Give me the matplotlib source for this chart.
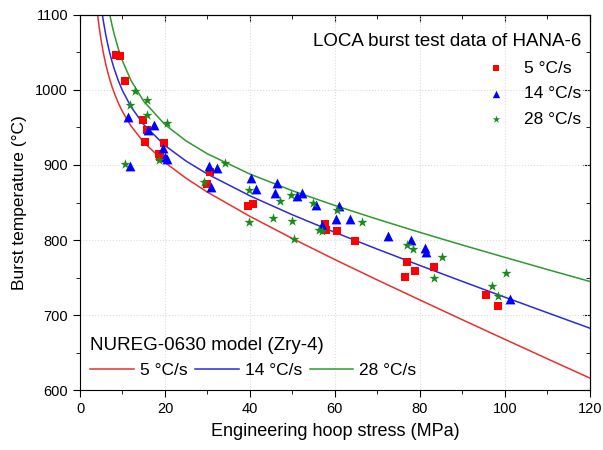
import matplotlib
matplotlib.use("Agg")
import matplotlib.pyplot as plt
from matplotlib.ticker import MultipleLocator

plt.rcParams['font.family'] = ['Liberation Sans', 'DejaVu Sans']

# LOCA burst test data of HANA-6
x_5 = [8.5, 9.3, 10.7, 14.8, 15.8, 15.3, 19.8, 18.6, 18.9, 29.9, 30.5, 39.5, 40.8,
       57.6, 58.0, 60.5, 64.7, 76.5, 77.0, 78.8, 83.4, 95.5, 98.3]
t_5 = [1047, 1045, 1012, 960, 947, 931, 929, 915, 911, 875, 891, 846, 848,
       821, 813, 812, 799, 751, 771, 759, 764, 727, 712]

x_14 = [11.4, 11.7, 16.1, 17.3, 19.6, 20.0, 20.4, 30.4, 32.3, 30.8, 40.3, 41.5, 46.3,
        45.9, 51.0, 52.3, 55.5, 56.9, 60.2, 60.9, 63.5, 72.5, 77.9, 81.2, 81.4, 101.2]
t_14 = [964, 898, 946, 953, 922, 911, 908, 898, 896, 871, 882, 868, 876,
        862, 859, 863, 847, 820, 828, 846, 828, 805, 800, 789, 784, 721]

x_28 = [10.6, 11.8, 12.9, 15.8, 15.8, 20.4, 18.6, 29.3, 34.1, 39.8, 39.8, 45.4, 47.1,
        49.6, 50.0, 50.4, 54.9, 56.2, 56.9, 60.4, 66.4, 76.9, 78.3, 83.4, 85.2, 97.1,
        98.4, 100.2]
t_28 = [901, 980, 998, 986, 967, 956, 907, 877, 903, 867, 824, 829, 852,
        860, 826, 801, 850, 814, 812, 840, 824, 793, 788, 750, 778, 739,
        726, 756]

# NUREG-0630 model curves (Zry-4)
x_model = [4, 4.5, 5, 5.5, 6, 6.5, 7, 7.5, 8, 9, 10, 12, 15, 20, 25, 30, 40, 50,
           60, 70, 80, 90, 100, 110, 120]
m_5 = [1106.8, 1083.9, 1065.2, 1049.4, 1036.0, 1024.3, 1014.1, 1005.0, 996.9, 982.9,
       971.1, 952.0, 930.3, 903.4, 882.2, 863.8, 831.5, 802.0, 773.9, 746.7, 720.1,
       693.7, 667.6, 641.7, 616.0]
m_14 = [1160.6, 1133.1, 1110.5, 1091.6, 1075.5, 1061.6, 1049.4, 1038.7, 1029.1, 1012.7,
        999.1, 977.6, 953.8, 925.9, 905.1, 887.9, 858.9, 833.6, 810.2, 787.8, 766.1,
        744.8, 723.8, 703.1, 682.5]
m_28 = [1239.3, 1205.0, 1176.8, 1153.2, 1133.1, 1115.7, 1100.6, 1087.3, 1075.5, 1055.3,
        1038.7, 1012.7, 984.9, 953.8, 932.0, 914.9, 887.9, 865.7, 846.0, 827.7, 810.2,
        793.3, 776.9, 760.7, 744.8]

rate_labels = ['5 °C/s', '14 °C/s', '28 °C/s']

fig = plt.figure(figsize=(6.03, 4.5), dpi=100)
ax = fig.add_axes([0.1327, 0.1333, 0.8453, 0.8334])

l1, = ax.plot(x_model, m_5, color='#e8302c', lw=1.1)
l2, = ax.plot(x_model, m_14, color='#2a2ae0', lw=1.1)
l3, = ax.plot(x_model, m_28, color='#2e9a2e', lw=1.1)

s1 = ax.scatter(x_5, t_5, marker='s', s=28, color='#ff0000', zorder=3, linewidths=0)
s2 = ax.scatter(x_14, t_14, marker='^', s=50, color='#0000ff', zorder=3, linewidths=0)
s3 = ax.scatter(x_28, t_28, marker='*', s=58, color='#1a8a1a', zorder=3, linewidths=0)

ax.set_xlim(0, 120)
ax.set_ylim(600, 1100)
ax.xaxis.set_major_locator(MultipleLocator(20))
ax.xaxis.set_minor_locator(MultipleLocator(10))
ax.yaxis.set_major_locator(MultipleLocator(100))
ax.yaxis.set_minor_locator(MultipleLocator(50))
ax.tick_params(which='both', direction='out', labelsize=10.5, top=False, right=False)
ax.tick_params(which='major', length=5)
ax.tick_params(which='minor', length=3)
ax.grid(True, which='major', color='#dcdcdc', linestyle=':', lw=0.8)
ax.set_axisbelow(True)

# inward ticks on top and right
tx = ax.secondary_xaxis('top')
tx.xaxis.set_major_locator(MultipleLocator(20))
tx.xaxis.set_minor_locator(MultipleLocator(10))
tx.tick_params(which='both', direction='in', labeltop=False)
tx.tick_params(which='major', length=5)
tx.tick_params(which='minor', length=3)
ty = ax.secondary_yaxis('right')
ty.yaxis.set_major_locator(MultipleLocator(100))
ty.yaxis.set_minor_locator(MultipleLocator(50))
ty.tick_params(which='both', direction='in', labelright=False)
ty.tick_params(which='major', length=5)
ty.tick_params(which='minor', length=3)

ax.set_xlabel('Engineering hoop stress (MPa)', fontsize=13, labelpad=5)
ax.set_ylabel('Burst temperature (°C)', fontsize=12.5, labelpad=6)

leg1 = ax.legend([s1, s2, s3], rate_labels, loc='upper right', frameon=False,
                 bbox_to_anchor=(1.0, 0.975), borderaxespad=0.3,
                 title='LOCA burst test data of HANA-6', title_fontsize=13.5,
                 fontsize=12.5, alignment='right', handletextpad=0.6,
                 labelspacing=0.6, markerscale=0.75, borderpad=0.2)
ax.add_artist(leg1)
ax.legend([l1, l2, l3], rate_labels, loc='lower left', frameon=False, ncol=3,
          title='NUREG-0630 model (Zry-4)', title_fontsize=13.5, fontsize=12.5,
          alignment='left', handlelength=2.5, handletextpad=0.35, columnspacing=0.45,
          borderaxespad=0.2, bbox_to_anchor=(0.0, 0.005))

fig.savefig('out.png', dpi=100)
